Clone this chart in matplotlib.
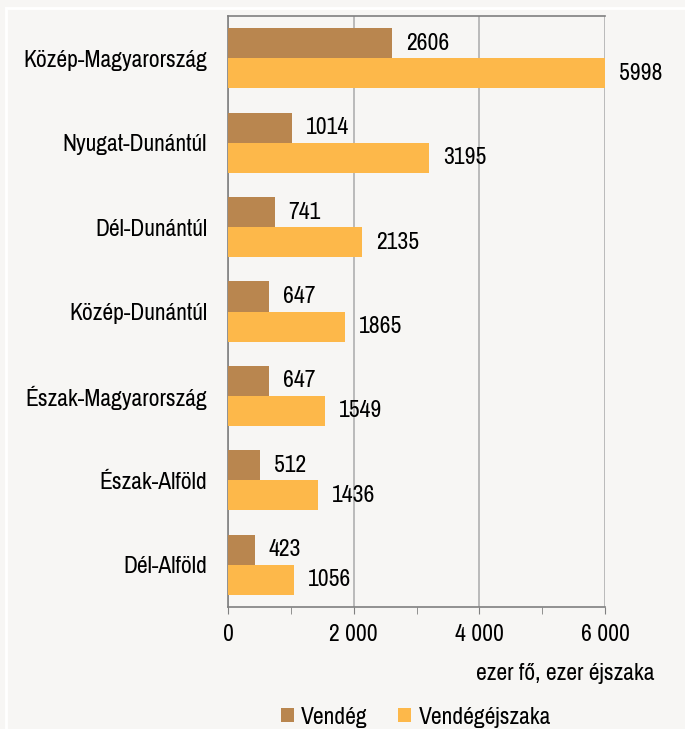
import matplotlib
matplotlib.use("Agg")
import matplotlib.pyplot as plt
from matplotlib import font_manager
from matplotlib.lines import Line2D
import numpy as np

regions = ["Közép-Magyarország", "Nyugat-Dunántúl", "Dél-Dunántúl",
           "Közép-Dunántúl", "Észak-Magyarország", "Észak-Alföld", "Dél-Alföld"]
vendeg = [2606, 1014, 741, 647, 647, 512, 423]
vendegejszaka = [5998, 3195, 2135, 1865, 1549, 1436, 1056]
series_names = ["Vendég", "Vendégéjszaka"]
xticks = [0, 2000, 4000, 6000]
xtick_labels = ["0", "2 000", "4 000", "6 000"]
unit_label = "ezer fő, ezer éjszaka"

# look for a narrow face, the original uses Arial Narrow
found = sorted({(f.name, f.stretch) for f in font_manager.fontManager.ttflist
                if "Narrow" in f.name or "Condensed" in f.name
                or f.stretch in ("condensed", "semi-condensed")})
stretch = "normal"
fs = 14
family = "Liberation Sans"
for name, st in found:
    if "Narrow" in name or "Condensed" in name:
        family, stretch, fs = name, "normal", 17
        break
    if name == "DejaVu Sans":
        family, stretch, fs = name, "condensed", 14
plt.rcParams["font.family"] = [family, "DejaVu Sans"]
plt.rcParams["font.stretch"] = stretch

bg = "#f7f6f4"
c_brown = "#b9864f"
c_orange = "#fdb84a"

fig = plt.figure(figsize=(6.85, 7.29), dpi=100, facecolor=bg)
ax = fig.add_axes([228 / 685, 1 - 607 / 729, 377 / 685, 591 / 729])
ax.set_facecolor(bg)

# white frame lines of the original panel
fig.add_artist(Line2D([6 / 685, 6 / 685], [0, 1 - 8 / 729], color="white", lw=2))
fig.add_artist(Line2D([6 / 685, 1], [1 - 8 / 729, 1 - 8 / 729], color="white", lw=2))

y = np.arange(len(regions))
h = 0.356
b1 = ax.barh(y - h / 2, vendeg, height=h, color=c_brown, label=series_names[0], zorder=3)
b2 = ax.barh(y + h / 2, vendegejszaka, height=h, color=c_orange, label=series_names[1], zorder=3)
ax.bar_label(b1, padding=10, fontsize=fs)
ax.bar_label(b2, padding=10, fontsize=fs)

ax.set_ylim(len(regions) - 0.5, -0.5)
ax.set_xlim(0, 6000)
ax.set_yticks(y)
ax.set_yticklabels(regions, fontsize=fs)
ax.tick_params(axis="y", length=0, pad=15)
ax.set_xticks(xticks)
ax.set_xticklabels(xtick_labels, fontsize=fs)
ax.set_xticks([1000, 3000, 5000], minor=True)
ax.tick_params(axis="x", which="both", length=5, color="#808080", pad=7, direction="out")

ax.grid(axis="x", color="#b0b0b0", lw=1.2, zorder=0)
for s in ["left", "bottom", "top"]:
    ax.spines[s].set_color("#808080")
    ax.spines[s].set_linewidth(1.2)
ax.spines["right"].set_visible(False)

fig.text(655 / 685, 1 - 674 / 729, unit_label, ha="right", va="center", fontsize=fs)
fig.legend(handles=[b1, b2], loc="center", bbox_to_anchor=(416 / 685, 1 - 717 / 729),
           ncol=2, frameon=False, fontsize=fs, handlelength=0.55, handleheight=0.55,
           columnspacing=1.3, handletextpad=0.3)

plt.savefig("out.png", dpi=100, facecolor=bg)
